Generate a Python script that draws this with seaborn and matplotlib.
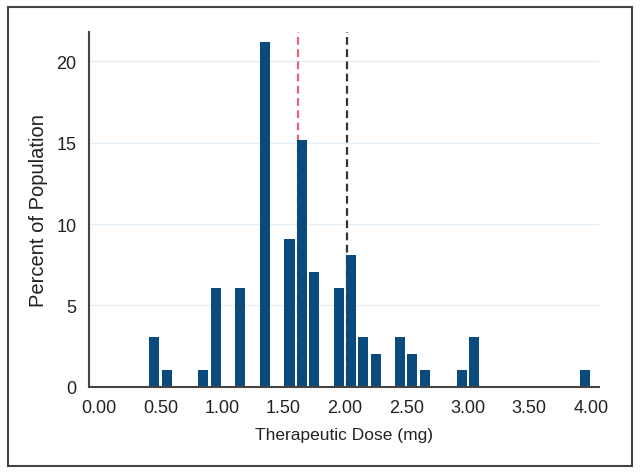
import numpy as np
import pandas as pd
import matplotlib
matplotlib.use("Agg")
import matplotlib.pyplot as plt
from matplotlib.patches import Rectangle
import seaborn as sns

# === Data ===
dose_mg = [0.45, 0.55, 0.85, 0.95, 1.15, 1.35, 1.55, 1.65, 1.75, 1.95,
           2.05, 2.15, 2.25, 2.45, 2.55, 2.65, 2.95, 3.05, 3.95]
percent = [3.03, 1.01, 1.01, 6.06, 6.06, 21.21, 9.09, 15.15, 7.07, 6.06,
           8.08, 3.03, 2.02, 3.03, 2.02, 1.01, 1.01, 3.03, 1.01]
x_ticks = [0.0, 0.5, 1.0, 1.5, 2.0, 2.5, 3.0, 3.5, 4.0]
y_ticks = [0, 5, 10, 15, 20]
mean_dose = 1.62
ref_dose = 2.02

df = pd.DataFrame({"dose": dose_mg, "pct": percent})

sns.set_style("white")
plt.rcParams["font.family"] = ["Liberation Sans", "DejaVu Sans"]

fig = plt.figure(figsize=(6.41, 4.77), dpi=100)
ax = fig.add_axes([0.139, 0.187, 0.795, 0.744])

# grid + reference lines behind bars
for y in y_ticks[1:]:
    ax.axhline(y, color="#e4eef7", lw=1.0, zorder=0)
ax.axvline(mean_dose, color="#e8647c", lw=1.6, ls=(0, (3.5, 2)), zorder=1)
ax.axvline(ref_dose, color="#333333", lw=1.6, ls=(0, (3.5, 2)), zorder=1)

sns.histplot(data=df, x="dose", weights="pct", binwidth=0.1, binrange=(0.0, 4.0),
             shrink=0.82, color="#0b4a7d", alpha=1, edgecolor="none", ax=ax, zorder=2)

ax.set_xlim(-0.08, 4.065)
ax.set_ylim(0, 21.8)
ax.set_xticks(x_ticks)
ax.set_xticklabels([f"{t:.2f}" for t in x_ticks])
ax.set_yticks(y_ticks)
ax.tick_params(axis="both", direction="out", length=5, width=1.3,
               color="#444444", labelsize=13, labelcolor="#222222", pad=4)
ax.set_xlabel("Therapeutic Dose (mg)", fontsize=12.5, color="#222222", labelpad=8)
ax.set_ylabel("Percent of Population", fontsize=14.5, color="#222222", labelpad=6)

for side in ["top", "right"]:
    ax.spines[side].set_visible(False)
for side in ["left", "bottom"]:
    ax.spines[side].set_color("#444444")
    ax.spines[side].set_linewidth(1.5)

# outer frame
fig.patches.append(Rectangle((8 / 641, 1 - 467 / 477), 624 / 641, 459 / 477,
                             transform=fig.transFigure, fill=False,
                             edgecolor="#444444", lw=1.5))

fig.savefig("out.png", dpi=100)
